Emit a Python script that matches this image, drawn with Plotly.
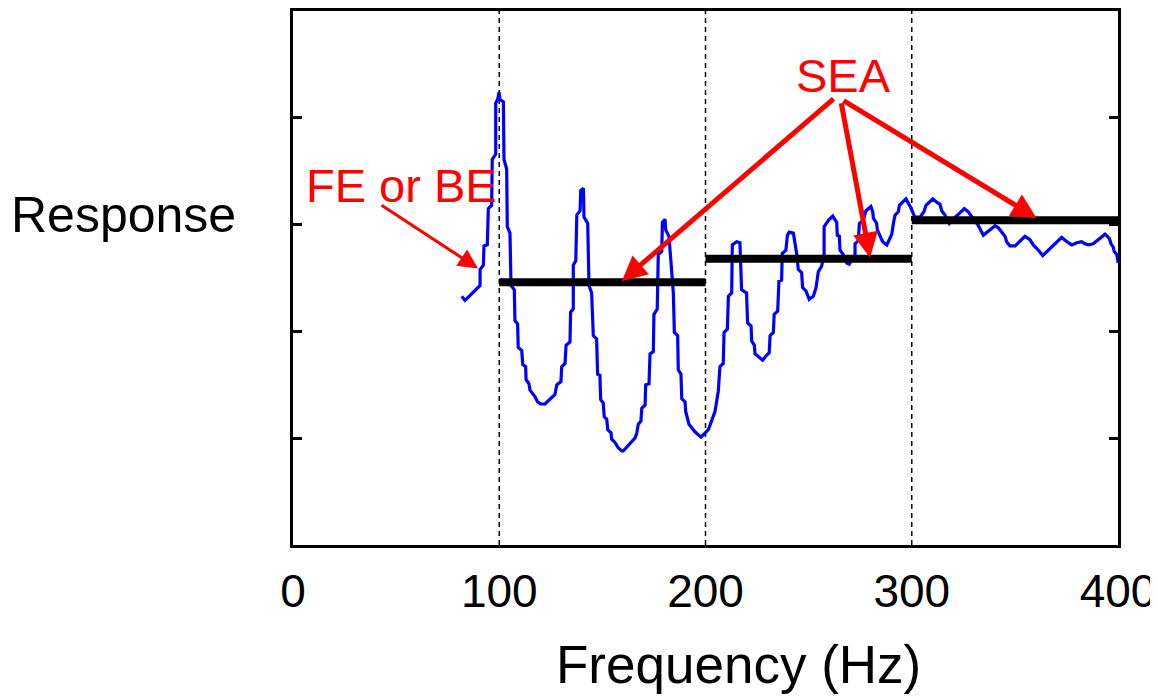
import plotly.graph_objects as go

# Frequency response (blue curve)
freq = [81.8, 83.4, 90.7, 90.7, 92.3, 92.6, 94.2, 94.7, 96.3, 96.6, 98.3, 98.3, 99.2, 99.9, 100.4, 102.0,
        102.3, 103.6, 103.9, 105.2, 105.7, 107.3, 107.6, 108.9, 109.2, 110.9, 111.4, 112.8, 113.0, 114.4,
        114.9, 117.3, 118.6, 120.2, 122.2, 127.0, 127.9, 129.9, 130.3, 131.9, 132.4, 134.3, 134.6, 135.9,
        135.9, 137.1, 137.6, 139.2, 139.5, 140.8, 141.1, 142.9, 143.5, 144.8, 145.6, 147.2, 147.7, 148.8,
        149.2, 150.4, 150.9, 152.1, 152.6, 154.2, 154.5, 156.1, 157.7, 159.4,
        160.1, 165.8, 166.6, 167.4, 168.7, 169.1, 170.7, 171.0, 172.6, 173.1, 174.7, 175.0, 176.6, 177.1,
        178.8, 179.1, 180.4, 180.7, 182.3, 184.4, 184.9, 186.5, 186.8, 188.1, 188.5, 190.1, 190.4, 192.0,
        194.9, 197.8,
        201.4, 203.0, 204.6, 206.2, 207.0, 208.6, 209.0, 210.6, 211.1, 212.7, 213.0, 215.1, 216.7, 217.5,
        219.9, 220.4, 222.1, 222.4, 223.7, 224.0, 225.6, 227.7, 229.3, 230.9, 231.3, 232.9, 233.3, 235.0,
        235.6, 236.9, 237.2, 239.0, 239.7, 240.6, 242.6, 244.2, 245.0, 246.6, 247.1, 248.7, 250.3, 252.3,
        253.6, 254.7, 256.3, 257.5, 257.5, 259.6, 261.7, 263.6, 263.9, 264.9, 265.2, 266.8, 268.5, 269.7,
        272.5, 272.5, 274.1, 274.6, 276.5, 277.8, 280.2, 281.1, 281.4, 283.0, 283.3, 284.6, 285.9, 287.9,
        289.5, 290.3, 291.1, 291.9, 293.5, 294.0, 297.2, 298.8, 299.5, 300.8, 301.6, 304.0, 305.9, 306.9,
        308.8, 310.2, 312.1, 313.7, 314.5, 316.1, 318.2, 321.0, 323.4, 325.5, 327.4, 329.8, 332.3, 334.7,
        337.9, 340.4, 342.0, 344.1, 345.2, 346.0, 347.6, 350.1, 352.5, 354.9, 357.3, 358.9, 361.4, 363.5,
        366.2, 370.3, 372.7, 375.2, 377.6, 380.0, 382.4, 384.0, 385.6, 388.0, 391.3, 393.7, 395.8, 396.6,
        397.7, 398.1, 399.4, 400.1]
response = [2.33, 2.29, 2.43, 2.58, 2.62, 2.80, 2.81, 3.15, 3.18, 3.61, 3.66, 4.14, 4.17, 4.24, 4.17, 4.15,
            3.61, 3.52, 2.98, 2.92, 2.43, 2.39, 2.10, 2.07, 1.85, 1.82, 1.69, 1.67, 1.55, 1.51,
            1.45, 1.39, 1.34, 1.32, 1.32, 1.41, 1.50, 1.53, 1.67, 1.70, 1.87, 1.90, 2.18, 2.21,
            2.62, 2.66, 3.09, 3.13, 3.32, 3.34, 3.07, 3.01, 2.43, 2.36, 1.96, 1.93, 1.60, 1.59,
            1.36, 1.33, 1.20, 1.18, 1.08, 1.05, 0.99, 0.96, 0.91, 0.88,
            0.88, 1.00, 1.04, 1.13, 1.16, 1.28, 1.31, 1.50, 1.51, 1.79, 1.81, 2.16, 2.21, 2.72,
            2.75, 3.02, 3.05, 2.95, 2.89, 2.36, 1.99, 1.96, 1.64, 1.60, 1.37, 1.34, 1.25, 1.13,
            1.06, 1.01,
            1.08, 1.16, 1.25, 1.44, 1.67, 1.70, 1.99, 2.02, 2.33, 2.36, 2.81, 2.84, 2.83, 2.39,
            2.36, 2.08, 2.05, 1.91, 1.87, 1.79, 1.76, 1.73, 1.77, 1.80, 1.96, 1.99, 2.16, 2.19,
            2.47, 2.48, 2.73, 2.76, 2.90, 2.93, 2.92, 2.73, 2.58, 2.55, 2.41, 2.38, 2.30, 2.33,
            2.41, 2.56, 2.61, 2.72, 2.98, 3.04, 3.08, 3.02, 2.90, 2.89, 2.76, 2.72, 2.64, 2.63,
            2.72, 2.82, 2.85, 3.01, 3.04, 3.13, 3.17, 3.12, 3.06, 3.01, 2.95, 2.89, 2.84, 2.81,
            2.87, 2.91, 3.01, 3.09, 3.12, 3.18, 3.24, 3.19, 3.16, 3.10, 3.07, 3.07, 3.12, 3.18,
            3.22, 3.24, 3.21, 3.19, 3.13, 3.09, 3.01, 3.07, 3.11, 3.15, 3.12, 3.06, 2.99, 2.90,
            2.95, 2.99, 2.97, 2.91, 2.89, 2.84, 2.80, 2.80, 2.85, 2.89, 2.86, 2.81, 2.76, 2.71,
            2.76, 2.83, 2.88, 2.84, 2.81, 2.83, 2.84, 2.82, 2.81, 2.82, 2.87, 2.91, 2.87, 2.82,
            2.79, 2.75, 2.72, 2.64]

# SEA band levels (black bars)
band_edges = [[100, 200], [200, 300], [300, 400]]
sea_levels = [2.46, 2.68, 3.04]

# Band boundaries (dashed lines)
band_bounds = [100, 200, 300]

x_ticks = [0, 100, 200, 300, 400]
y_ticks = [1, 2, 3, 4]

FONT = "Liberation Sans, Arial, sans-serif"

fig = go.Figure()

for b in band_bounds:
    fig.add_shape(type="line", xref="x", yref="paper", x0=b, x1=b, y0=0, y1=1,
                  line=dict(color="black", width=1.5, dash="5px,4px"), layer="below")

fig.add_trace(go.Scatter(x=freq, y=response, mode="lines",
                         line=dict(color="#0000FF", width=3.2), showlegend=False))

for (x0, x1), lvl in zip(band_edges, sea_levels):
    fig.add_trace(go.Scatter(x=[x0, x1], y=[lvl, lvl], mode="lines",
                             line=dict(color="black", width=8), showlegend=False))

red = "#FF0000"
fnt = dict(family=FONT, size=47, color=red)

fig.add_annotation(x=52.8, y=3.37, xref="x", yref="y", text="FE or BE", showarrow=False,
                   font=fnt)
fig.add_annotation(x=89.7, y=2.59, ax=42.2, ay=3.19, xref="x", yref="y", axref="x", ayref="y",
                   text="", showarrow=True, arrowhead=2, arrowsize=1.3, arrowwidth=3, arrowcolor=red)

fig.add_annotation(x=266.7, y=4.40, xref="x", yref="y", text="SEA", showarrow=False, font=fnt)
sea_tail = [(262.8, 4.19), (265.7, 4.15), (266.2, 4.17)]
sea_tip = [(159.4, 2.47), (279.8, 2.69), (360.6, 3.06)]
for (tx, ty), (hx, hy) in zip(sea_tail, sea_tip):
    fig.add_annotation(x=hx, y=hy, ax=tx, ay=ty, xref="x", yref="y", axref="x", ayref="y",
                       text="", showarrow=True, arrowhead=2, arrowsize=1.0, arrowwidth=5,
                       arrowcolor=red)

fig.add_annotation(x=-0.0665, y=0.618, xref="paper", yref="paper", xanchor="right",
                   yanchor="middle", text="Response", showarrow=False,
                   font=dict(family=FONT, size=50, color="black"))

fig.add_annotation(x=0.54, y=-0.223, xref="paper", yref="paper", xanchor="center",
                   yanchor="middle", text="Frequency (Hz)", showarrow=False,
                   font=dict(family=FONT, size=53, color="black"))

fig.update_xaxes(range=[0, 400], tickvals=x_ticks, ticks="", showline=True, linewidth=3,
                 linecolor="black", mirror=True, showgrid=False, zeroline=False,
                 ticklabelstandoff=4,
                 tickfont=dict(family=FONT, size=46, color="black"))
fig.update_yaxes(range=[0, 5], tickvals=y_ticks, ticks="inside", ticklen=9, tickwidth=3,
                 tickcolor="black", showticklabels=False, showline=True, linewidth=3,
                 linecolor="black", mirror="ticks", showgrid=False, zeroline=False)

fig.update_layout(width=1158, height=698, margin=dict(l=285, r=48, t=0, b=161),
                  plot_bgcolor="white", paper_bgcolor="white", showlegend=False)

fig.write_html("out.html")
